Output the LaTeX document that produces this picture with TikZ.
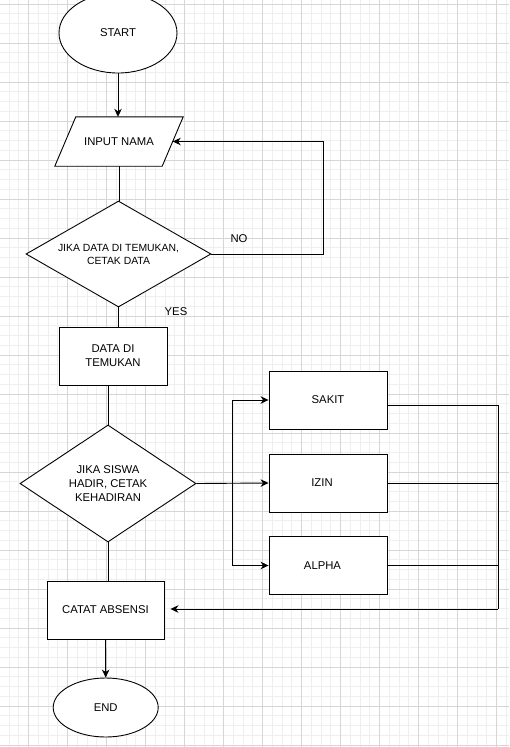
\documentclass[tikz,border=0pt]{standalone}
\usepackage{fontspec}
\setmainfont{Liberation Sans}
\usetikzlibrary{shapes.geometric,arrows.meta}

\definecolor{gridminor}{HTML}{EFEFEF}
\definecolor{gridmajor}{HTML}{D6D6D6}

\pgfdeclarelayer{gridlayer}
\pgfdeclarelayer{shapelayer}
\pgfsetlayers{gridlayer,shapelayer,main}

\tikzset{
  every node/.style={font=\fontsize{11.3}{14}\selectfont, inner sep=0pt, align=center},
  shapeline/.style={draw=black, line width=0.9pt, fill=white},
  terminal/.style={shapeline, ellipse},
  procbox/.style={shapeline, rectangle},
  decision/.style={shapeline, diamond},
  flow/.style={line width=0.9pt, draw=black},
  arrowflow/.style={flow, -{Stealth[length=8pt,width=7.5pt,inset=2.5pt]}},
  minorline/.style={draw=gridminor, line width=0.8pt},
  majorline/.style={draw=gridmajor, line width=1pt},
  tag/.style={font=\fontsize{11.3}{14}\selectfont}
}

\begin{document}
\begin{tikzpicture}[x=1pt,y=-1pt]
  \useasboundingbox (0,0) rectangle (509,747);

  % background grid
  \begin{pgfonlayer}{gridlayer}
    \fill[white] (0,0) rectangle (509,747);
    \foreach \k in {-2,...,49}
      \draw[minorline] ({28.5+9.75*\k},0) -- ({28.5+9.75*\k},747);
    \foreach \k in {0,...,76}
      \draw[minorline] (0,{4+9.75*\k}) -- (509,{4+9.75*\k});
    \foreach \k in {0,...,12}
      \draw[majorline] ({28.5+39*\k},0) -- ({28.5+39*\k},747);
    \foreach \k in {0,...,19}
      \draw[majorline] (0,{4+39*\k}) -- (509,{4+39*\k});
  \end{pgfonlayer}

  % nodes
  \node[terminal, minimum width=118pt, minimum height=80pt] (start) at (118,33) {START};

  \node[minimum width=107pt, minimum height=49pt] (input) at (119,141.5) {INPUT NAMA};
  \begin{pgfonlayer}{shapelayer}
    \draw[shapeline]
      ([xshift=-10.5pt]input.south west) -- ([xshift=10.5pt]input.north west)
      -- ([xshift=10.5pt]input.north east) -- ([xshift=-10.5pt]input.south east) -- cycle;
  \end{pgfonlayer}

  \node[decision, minimum width=185pt, minimum height=106pt, shape aspect=1.75,
        font=\fontsize{10.4}{13}\selectfont] (d1) at (118.5,254)
        {JIKA DATA DI TEMUKAN,\\CETAK DATA};

  \node[procbox, minimum width=108pt, minimum height=58pt] (found) at (113,356)
        {DATA DI\\TEMUKAN};

  \node[decision, minimum width=176pt, minimum height=117pt, shape aspect=1.5] (d2)
        at (108,483.5) {JIKA SISWA\\HADIR, CETAK\\KEHADIRAN};

  \node[procbox, minimum width=118pt, minimum height=58pt] (sakit) at (328,400) {SAKIT};
  \node[procbox, minimum width=118pt, minimum height=58pt] (izin) at (328,483)
        {IZIN\hspace*{12pt}};
  \node[procbox, minimum width=118pt, minimum height=58pt] (alpha) at (328,565.5)
        {ALPHA\hspace*{11pt}};

  \node[procbox, minimum width=117pt, minimum height=58pt] (catat) at (105.5,610)
        {CATAT ABSENSI};

  \node[terminal, minimum width=105pt, minimum height=59pt] (end) at (105.7,707.5) {END};

  % labels
  \node[tag] (nolabel) at (239,239) {NO};
  \node[tag] (yeslabel) at (176,312) {YES};

  % connectors
  \draw[arrowflow] (start.south) -- (start.south |- input.north);
  \draw[flow] (input.south) -- (input.south |- d1.north);

  \coordinate (nocorner) at (323,141.5);
  \draw[arrowflow] (d1.east) -| (nocorner) -- (input.east);

  \draw[flow] (d1.south) -- (d1.south |- found.north);
  \draw[flow] (d2.north |- found.south) -- (d2.north);

  \draw[arrowflow] (d2.east) -- (izin.west);
  \coordinate (fork) at (232.5,483.5);
  \draw[arrowflow] (fork) |- (sakit.west);
  \draw[arrowflow] (fork) |- (alpha.west);

  \coordinate (railtop) at (498,405);
  \coordinate (railbot) at (498,609);
  \draw[flow] ([yshift=-5pt]sakit.east) -- (railtop) -- (railbot);
  \draw[flow] (izin.east) -- (izin.east -| railtop);
  \draw[flow] (alpha.east) -- (alpha.east -| railtop);
  \draw[arrowflow, shorten >=6pt] (railbot) -- (railbot -| catat.east);

  \draw[flow] (d2.south) -- (d2.south |- catat.north);
  \draw[arrowflow] (catat.south) -- (end.north);
\end{tikzpicture}
\end{document}
